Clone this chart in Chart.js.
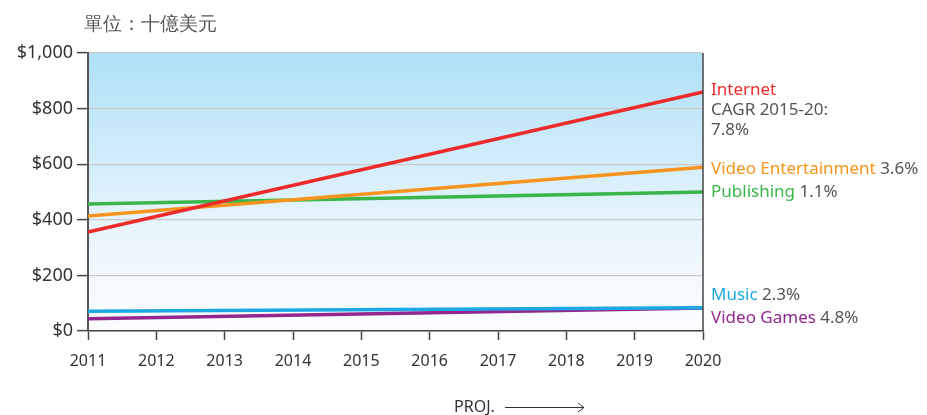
<!DOCTYPE html>
<html>
<head>
<meta charset="utf-8">
<script src="https://cdn.jsdelivr.net/npm/chart.js@4"></script>
<style>
  html, body { margin: 0; padding: 0; background: #fff; }
  #wrap { position: relative; width: 927px; height: 415px; }
</style>
</head>
<body>
<div id="wrap"><canvas id="chart" width="927" height="415"></canvas></div>
<script>
// 年份與各產業營收（十億美元），2011 實際、2020 預估
const years = ['2011','2012','2013','2014','2015','2016','2017','2018','2019','2020'];
const seriesNames = ['Internet', 'Video Entertainment', 'Publishing', 'Music', 'Video Games'];
const cagrLabels  = ['CAGR 2015-20:\n7.8%', '3.6%', '1.1%', '2.3%', '4.8%'];
const start2011   = [356, 414, 457, 71, 44];
const end2020     = [860, 589, 500, 84, 83];
const yTicks      = [0, 200, 400, 600, 800, 1000];

const colors = ['#ee2b2b', '#f7941e', '#3ab54a', '#1ca8e3', '#93278f'];
const labelDy = [-2, 2, 0, -12, 10];
const FONT = '"Noto Sans", "Open Sans", sans-serif';

const datasets = seriesNames.map((name, i) => ({
    label: name,
    data: [{ x: years[0], y: start2011[i] }, { x: years[years.length - 1], y: end2020[i] }],
    borderColor: colors[i],
    borderWidth: 3.5,
    pointRadius: 0,
    tension: 0
}));

const decor = {
    id: 'decor',
    beforeDraw(chart) {
        const { ctx, chartArea: a } = chart;
        const g = ctx.createLinearGradient(0, a.top, 0, a.bottom);
        g.addColorStop(0, '#aee0f7');
        g.addColorStop(0.6, '#e6f4fc');
        g.addColorStop(1, '#fcfdff');
        ctx.save();
        ctx.fillStyle = g;
        ctx.fillRect(a.left, a.top, a.right - a.left, a.bottom - a.top);
        ctx.restore();
    },
    afterDraw(chart) {
        const { ctx, chartArea: a, scales } = chart;
        ctx.save();
        // right border
        ctx.strokeStyle = '#444';
        ctx.lineWidth = 1.5;
        ctx.beginPath();
        ctx.moveTo(a.right, a.top);
        ctx.lineTo(a.right, a.bottom);
        ctx.stroke();

        // unit title
        ctx.font = '19px ' + FONT;
        ctx.fillStyle = '#555';
        ctx.textBaseline = 'middle';
        ctx.textAlign = 'left';
        ctx.fillText('單位：十億美元', 84, 25);

        // series labels on the right
        ctx.font = '17px ' + FONT;
        const lx = a.right + 8;
        seriesNames.forEach((name, i) => {
            const y = scales.y.getPixelForValue(end2020[i]) + labelDy[i];
            ctx.fillStyle = colors[i];
            ctx.fillText(name, lx, y);
            const parts = cagrLabels[i].split('\n');
            ctx.fillStyle = '#555';
            if (parts.length > 1) {
                parts.forEach((p, k) => ctx.fillText(p, lx, y + 20 * (k + 1)));
            } else {
                ctx.fillText(parts[0], lx + ctx.measureText(name + ' ').width, y);
            }
        });

        // PROJ. arrow
        ctx.font = '16px ' + FONT;
        ctx.fillStyle = '#333';
        ctx.fillText('PROJ.', 454, 407);
        ctx.strokeStyle = '#333';
        ctx.lineWidth = 1;
        ctx.beginPath();
        ctx.moveTo(505, 407.5);
        ctx.lineTo(584, 407.5);
        ctx.moveTo(578, 403);
        ctx.lineTo(584, 407.5);
        ctx.lineTo(578, 412);
        ctx.stroke();
        ctx.restore();
    }
};

new Chart(document.getElementById('chart'), {
    type: 'line',
    data: { labels: years, datasets: datasets },
    options: {
        responsive: false,
        animation: false,
        layout: { padding: { top: 53, right: 224, left: 0, bottom: 0 } },
        plugins: { legend: { display: false }, tooltip: { enabled: false } },
        scales: {
            x: {
                offset: false,
                afterFit: s => { s.height = 84; },
                grid: { drawOnChartArea: false, drawTicks: true, tickLength: 9, tickColor: '#444', tickWidth: 1.5 },
                border: { color: '#444', width: 1.5 },
                ticks: { color: '#333', font: { family: FONT, size: 16 }, padding: 12, maxRotation: 0, autoSkip: false }
            },
            y: {
                min: 0, max: 1000,
                afterFit: s => { s.width = 88; },
                afterBuildTicks: s => { s.ticks = yTicks.map(v => ({ value: v })); },
                grid: { color: '#c9c9c9', lineWidth: 1.2, tickColor: '#444', tickLength: 11, tickWidth: 1.5 },
                border: { color: '#555', width: 2 },
                ticks: {
                    color: '#333', padding: 4,
                    font: { family: FONT, size: 18 },
                    callback: v => '$' + v.toLocaleString('en-US')
                }
            }
        }
    },
    plugins: [decor]
});
</script>
</body>
</html>
